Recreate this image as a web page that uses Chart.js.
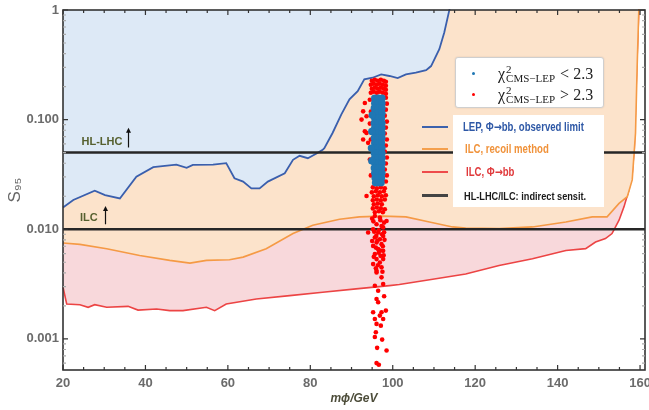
<!DOCTYPE html>
<html>
<head>
<meta charset="utf-8">
<script src="https://cdn.jsdelivr.net/npm/chart.js@4"></script>
<style>
  body { margin: 0; background: #fff; }
  #wrap { position: relative; width: 649px; height: 410px; }
  .box { position: absolute; background: #fff; }
  .dot { position: absolute; width: 3px; height: 3px; border-radius: 50%; }
  .chi { position: absolute; font: 16px "Liberation Serif", "DejaVu Serif", serif; line-height: 18px; color: #222; white-space: nowrap; }
  .ss { display: inline-block; position: relative; width: 55px; height: 0; vertical-align: baseline; }
  .ss b { position: absolute; left: 1px; font-weight: normal; font-size: 11px; line-height: 11px; }
  .ss b.up { top: -15px; }
  .ss b.dn { top: -6px; }
  .ln { position: absolute; left: 422px; width: 26px; height: 2px; }
  .lt { position: absolute; font: bold 12px "Liberation Sans", Arial, sans-serif; white-space: nowrap; line-height: 14px; transform: scaleX(0.8); transform-origin: 0 50%; }
  .ar { font-family: "DejaVu Sans", sans-serif; font-weight: bold; }
</style>
</head>
<body>
<div id="wrap">
  <canvas id="chart" width="649" height="410"></canvas>

  <div class="box" style="left:455px;top:57px;width:147px;height:49px;border:1px solid #cfcfcf;border-radius:3px;box-shadow:0 0 2px rgba(0,0,0,0.12);">
    <span class="dot" style="left:16px;top:14px;background:#1f77b4"></span>
    <span class="chi" style="left:42px;top:7px">χ<span class="ss"><b class="up">2</b><b class="dn">CMS−LEP</b></span>&lt; 2.3</span>
    <span class="dot" style="left:16px;top:35px;background:#f00"></span>
    <span class="chi" style="left:42px;top:28px">χ<span class="ss"><b class="up">2</b><b class="dn">CMS−LEP</b></span>&gt; 2.3</span>
  </div>

  <div class="box" style="left:453px;top:115px;width:151px;height:92px;"></div>
  <div class="ln" style="top:126px;background:#3c62ad"></div>
  <div class="ln" style="top:148px;background:#f4a04e"></div>
  <div class="ln" style="top:171px;background:#ee4b4b"></div>
  <div class="ln" style="top:194px;height:3px;background:#444"></div>
  <div class="lt" style="left:463px;top:120px;color:#2e58a6">LEP, Φ<span class="ar">→</span>bb, observed limit</div>
  <div class="lt" style="left:465px;top:142px;color:#f0923a">ILC, recoil method</div>
  <div class="lt" style="left:466px;top:165px;color:#e0393b">ILC, Φ<span class="ar">→</span>bb</div>
  <div class="lt" style="left:464px;top:189px;color:#1a1a1a;font-size:11.5px">HL-LHC/ILC: indirect sensit.</div>
</div>

<script>
// LEP, Φ→bb observed limit
const lepX = [20, 22.5, 27.7, 30.2, 33.8, 37.8, 41.9, 47.5, 50.0, 51.5, 56.4, 59.6, 61.6, 63.7, 65.7, 67.7, 69.7, 73.8, 75.8, 77.4, 79.4, 81.4, 83.0, 83.4, 85.4, 87.5, 89.5, 91.5, 93.1, 95.1, 97.2, 99.2, 101.2, 103.2, 105.6, 108.1, 109.3, 111.3, 112.5, 113.7, 114.6];
const lepY = [0.0158, 0.0185, 0.0225, 0.0205, 0.0191, 0.0302, 0.0368, 0.0389, 0.0363, 0.0387, 0.0389, 0.0401, 0.0292, 0.0272, 0.0236, 0.0236, 0.0272, 0.0324, 0.0430, 0.0468, 0.0445, 0.0488, 0.0531, 0.0550, 0.0755, 0.111, 0.153, 0.182, 0.233, 0.241, 0.259, 0.250, 0.239, 0.259, 0.268, 0.283, 0.308, 0.439, 0.624, 0.986, 1.4];

// ILC, recoil method
const recoilX = [20, 24.1, 30.6, 38.6, 45.9, 50.8, 54.8, 60.4, 63.7, 69.3, 75.8, 80.6, 87.1, 91.9, 97.6, 103.2, 108.9, 114.5, 117.7, 125.8, 133.9, 142.0, 148.4, 152.0, 154.9, 156.9, 158.1, 158.9, 159.3, 159.7, 159.9];
const recoilY = [0.00749, 0.00728, 0.00665, 0.00577, 0.0052, 0.00491, 0.0052, 0.00527, 0.00557, 0.00665, 0.00914, 0.01088, 0.01235, 0.01297, 0.01316, 0.01297, 0.01166, 0.0105, 0.01028, 0.01014, 0.0105, 0.01166, 0.01297, 0.01297, 0.0172, 0.0198, 0.0282, 0.0755, 0.308, 1.0, 1.4];

// ILC, Φ→bb
const bbX = [20, 20.9, 24.1, 26.1, 27.7, 30.6, 35.8, 38.2, 42.7, 45.9, 49.1, 54.8, 56.8, 59.6, 66.9, 75.0, 83.0, 91.1, 99.2, 101.6, 109.7, 117.7, 125.8, 133.9, 142.0, 146.8, 149.2, 151.6, 153.2, 154.9, 156.1, 157.3, 158.1, 158.6, 159.2, 159.7, 159.9];
const bbY = [0.00296, 0.00208, 0.00205, 0.00194, 0.00205, 0.00194, 0.00198, 0.00183, 0.00187, 0.00181, 0.00181, 0.00194, 0.00181, 0.00208, 0.00231, 0.00248, 0.00266, 0.00286, 0.00306, 0.00313, 0.0035, 0.0039, 0.00467, 0.00538, 0.00641, 0.00665, 0.00764, 0.00822, 0.00914, 0.0121, 0.016, 0.0228, 0.0324, 0.055, 0.3, 1.0, 1.4];

// HL-LHC and ILC indirect sensitivity
const sensLevels = [0.05, 0.01];

// scan points, chi2 < 2.3
const blueScan = [
  [95.6,0.1568],[96.5,0.1568],[97.4,0.1568],
  [95.6,0.1413],[96.5,0.1413],[97.4,0.1413],
  [95.5,0.1272],[96.5,0.1272],[97.4,0.1272],
  [95.6,0.1146],[96.4,0.1146],[97.4,0.1146],
  [95.6,0.1032],[96.5,0.1032],[97.3,0.1032],
  [95.5,0.0929],[96.5,0.0929],[97.4,0.0929],
  [95.6,0.0837],[96.5,0.0837],[97.4,0.0837],
  [95.6,0.0754],[96.4,0.0754],[97.4,0.0754],
  [95.5,0.0679],[96.5,0.0679],[97.4,0.0679],
  [95.6,0.0611],[96.5,0.0611],[97.3,0.0611],
  [95.6,0.0551],[96.5,0.0551],[97.4,0.0551],
  [95.5,0.0496],[96.5,0.0496],[97.4,0.0496],
  [95.6,0.0447],[96.4,0.0447],[97.4,0.0447],
  [95.6,0.0402],[96.5,0.0402],[97.4,0.0402],
  [95.5,0.0362],[96.5,0.0362],[97.3,0.0362],
  [95.6,0.0326],[96.5,0.0326],[97.4,0.0326],
  [95.7,0.0294],[96.5,0.0294],[97.3,0.0294],
  [95.8,0.0265],[96.5,0.0265],[97.2,0.0265],
  [95.0,0.110],[94.9,0.078],[94.8,0.055],[94.9,0.042]
];

// scan points, chi2 > 2.3
const redScan = [
  [94.93,0.2262],[95.66,0.2311],[96.38,0.2262],[97.11,0.2311],[97.84,0.2262],[98.33,0.2215],
  [94.68,0.2081],[95.41,0.2125],[96.14,0.2081],[96.87,0.2125],[97.60,0.2081],[98.33,0.2038],
  [94.93,0.1913],[95.66,0.1954],[96.38,0.1913],[97.11,0.1954],[97.84,0.1913],[98.33,0.1874],
  [94.68,0.1760],[95.41,0.1797],[96.14,0.1760],[96.87,0.1797],[97.60,0.1760],[98.33,0.1723],
  [98.33,0.1585],[98.57,0.1398],[98.33,0.1233],[98.08,0.1087],[98.57,0.0959],[98.33,0.0846],
  [98.08,0.0746],[98.57,0.0658],[98.33,0.0580],[98.08,0.0512],[98.57,0.0451],[98.33,0.0398],
  [98.08,0.0351],[98.57,0.0310],[98.33,0.0273],
  [94.44,0.152],[94.68,0.1182],[94.44,0.092],[94.68,0.0658],[94.44,0.0433],[94.68,0.031],
  [93.23,0.1418],[92.82,0.119],[93.64,0.1072],[92.43,0.1],[93.23,0.0782],[93.64,0.0757],
  [92.82,0.0658],[94.03,0.0614],[93.64,0.0201],
  [95.17,0.0241],[96.14,0.0236],[97.11,0.0241],[98.08,0.0236],
  [94.93,0.0217],[95.90,0.0222],[96.87,0.0217],[97.84,0.0222],
  [95.41,0.0200],[96.38,0.0204],[97.35,0.0200],[98.33,0.0204],
  [95.17,0.0184],[96.14,0.0187],[97.11,0.0184],[98.08,0.0187],
  [95.41,0.0169],[96.38,0.0172],[97.35,0.0169],
  [95.17,0.0155],[96.14,0.0158],[97.11,0.0155],[98.08,0.0152],
  [95.66,0.0143],[96.63,0.0146],[97.60,0.0143],
  [95.66,0.0132],[96.87,0.0128],[98.50,0.0119],[96.07,0.0111],[97.28,0.0107],[95.24,0.0100],
  [97.67,0.0104],[96.46,0.00933],[94.03,0.00933],[97.67,0.00869],[95.66,0.00841],[96.87,0.00811],
  [96.07,0.00757],[95.24,0.00705],[97.28,0.00731],[96.46,0.00658],[97.67,0.00635],[95.66,0.00593],
  [97.04,0.00572],[96.07,0.00534],[97.67,0.00534],[95.24,0.00481],[96.87,0.00498],[97.28,0.00449],
  [96.07,0.00418],
  [95.0,0.0125],[97.9,0.0115],[96.6,0.0098],[95.5,0.0095],[97.4,0.0090],[96.3,0.0079],
  [98.0,0.0080],[95.9,0.0068],[97.0,0.0064],
  [95.3,0.0118],[97.0,0.0121],[96.0,0.0087],[97.9,0.0094],[95.0,0.0078],[97.6,0.0070],
  [96.6,0.0061],[95.4,0.0056],[96.4,0.0047],[97.8,0.0058],[95.9,0.0044],[97.5,0.0041],
  [96.07,0.00404],[97.28,0.00364],[95.66,0.00305],[97.67,0.00316],[96.46,0.00275],[97.91,0.00245],
  [96.07,0.00231],[96.46,0.00216],[95.24,0.00175],[97.28,0.00175],[98.33,0.00181],[96.87,0.00163],
  [95.66,0.00152],[97.67,0.00152],[96.07,0.00137],[97.11,0.00132],[95.90,0.00115],[95.66,0.00104],
  [97.43,0.000985],[96.21,0.000828],[98.50,0.000782],[96.07,0.000601],[96.63,0.00058]
];

const xTicks = [20, 40, 60, 80, 100, 120, 140, 160];
const yTicks = [0.001, 0.01, 0.1, 1];
const yTickLabels = ['0.001', '0.010', '0.100', '1'];

// text labels on the left, in data units
const notes = [
  { text: 'HL-LHC', x: 24.5, y: 0.062, ax: 35.7, y0: 0.0557, y1: 0.0845 },
  { text: 'ILC', x: 24.1, y: 0.0126, ax: 30.3, y0: 0.0111, y1: 0.0163 }
];

const X_MIN = 20, X_MAX = 161.2;

const pts = (xs, ys) => xs.map((x, i) => ({ x: x, y: ys[i] }));

const decor = {
  id: 'decor',
  afterDatasetsDraw(chart) {
    const { ctx, chartArea: a, scales: { x, y } } = chart;
    ctx.save();
    // labels with arrows
    notes.forEach(n => {
      ctx.font = 'bold 11px "Liberation Sans", Arial, sans-serif';
      ctx.fillStyle = '#56602f';
      ctx.textBaseline = 'middle';
      ctx.fillText(n.text, x.getPixelForValue(n.x), y.getPixelForValue(n.y));
      const ax = Math.round(x.getPixelForValue(n.ax)) + 0.5;
      const y0 = y.getPixelForValue(n.y0), y1 = y.getPixelForValue(n.y1);
      ctx.strokeStyle = '#111';
      ctx.lineWidth = 1.2;
      ctx.beginPath(); ctx.moveTo(ax, y0); ctx.lineTo(ax, y1 + 4); ctx.stroke();
      ctx.fillStyle = '#111';
      ctx.beginPath(); ctx.moveTo(ax, y1); ctx.lineTo(ax - 2.5, y1 + 5); ctx.lineTo(ax + 2.5, y1 + 5); ctx.closePath(); ctx.fill();
    });
    // frame
    ctx.strokeStyle = '#333';
    ctx.lineWidth = 1.6;
    ctx.strokeRect(a.left, a.top, a.right - a.left, a.bottom - a.top);
    // inward ticks
    ctx.lineWidth = 1.2;
    for (let v = 20; v <= 160; v += 5) {
      const px = x.getPixelForValue(v);
      const len = v % 20 === 0 ? 5 : 3;
      ctx.strokeStyle = '#333';
      ctx.beginPath();
      ctx.moveTo(px, a.bottom); ctx.lineTo(px, a.bottom - len);
      ctx.moveTo(px, a.top); ctx.lineTo(px, a.top + len);
      ctx.stroke();
    }
    for (let e = -4; e <= 0; e++) {
      for (let m = 1; m <= 9; m++) {
        const v = m * Math.pow(10, e);
        if (v < y.min || v > y.max) continue;
        const py = y.getPixelForValue(v);
        const len = m === 1 ? 5 : 3;
        ctx.strokeStyle = m === 1 ? '#333' : '#aaa';
        ctx.beginPath();
        ctx.moveTo(a.left, py); ctx.lineTo(a.left + len, py);
        ctx.moveTo(a.right, py); ctx.lineTo(a.right - len, py);
        ctx.stroke();
      }
    }
    ctx.restore();
  }
};

const tickFont = { family: '"Liberation Sans", Arial, sans-serif', size: 13, weight: 'bold' };

new Chart(document.getElementById('chart').getContext('2d'), {
  type: 'line',
  data: {
    datasets: [
      {
        data: pts(bbX, bbY), order: 6, fill: 'end',
        borderColor: '#ec4444', backgroundColor: '#f8d8db',
        borderWidth: 1.6, pointRadius: 0, clip: 1
      },
      {
        data: pts(recoilX, recoilY), order: 5, fill: 'end',
        borderColor: '#f59a45', backgroundColor: '#fce3cb',
        borderWidth: 1.6, pointRadius: 0, clip: 1
      },
      {
        data: pts(lepX, lepY), order: 4, fill: 'end',
        borderColor: '#3a5fad', backgroundColor: '#dde9f6',
        borderWidth: 1.8, pointRadius: 0, clip: 1
      },
      ...sensLevels.map(v => ({
        data: [{ x: X_MIN, y: v }, { x: X_MAX, y: v }], order: 3, fill: false,
        borderColor: '#262626', borderWidth: 2.5, pointRadius: 0, clip: 0
      })),
      {
        type: 'scatter', showLine: false, order: 2,
        data: redScan.map(p => ({ x: p[0], y: p[1] })),
        pointRadius: 2.3, pointBorderWidth: 0, pointBackgroundColor: '#ff0000'
      },
      {
        type: 'scatter', showLine: false, order: 1,
        data: blueScan.map(p => ({ x: p[0], y: p[1] })),
        pointRadius: 3.6, pointBorderWidth: 0, pointBackgroundColor: '#1f77b4'
      }
    ]
  },
  options: {
    responsive: false,
    animation: false,
    events: [],
    layout: { padding: { top: 10, right: 4, left: 0, bottom: 0 } },
    plugins: { legend: { display: false }, tooltip: { enabled: false } },
    scales: {
      x: {
        type: 'linear', min: X_MIN, max: X_MAX,
        grid: { display: false, drawTicks: false }, border: { display: false },
        afterBuildTicks: s => { s.ticks = xTicks.map(v => ({ value: v })); },
        afterFit: s => { s.height = 40; s.paddingLeft = 0; s.paddingRight = 0; },
        ticks: { font: tickFont, color: '#6b6b6b', padding: 6, maxRotation: 0, autoSkip: false },
        title: {
          display: true, text: 'mϕ/GeV', color: '#4d4d3a',
          font: { family: '"Liberation Sans", Arial, sans-serif', size: 12, style: 'italic', weight: 'bold' },
          padding: { top: 0, bottom: 4 }
        }
      },
      y: {
        type: 'logarithmic', min: 0.00052, max: 1,
        grid: { display: false, drawTicks: false }, border: { display: false },
        afterBuildTicks: s => { s.ticks = yTicks.map(v => ({ value: v })); },
        afterFit: s => { s.width = 63; s.paddingTop = 0; s.paddingBottom = 0; },
        ticks: {
          font: tickFont, color: '#6b6b6b', padding: 4, autoSkip: false,
          callback: (v, i) => yTickLabels[i]
        },
        title: {
          display: true, text: 'S₉₅', color: '#666',
          font: { family: '"Liberation Sans", Arial, sans-serif', size: 17 },
          padding: { top: 5, bottom: 0 }
        }
      }
    }
  },
  plugins: [decor]
});
</script>
</body>
</html>
